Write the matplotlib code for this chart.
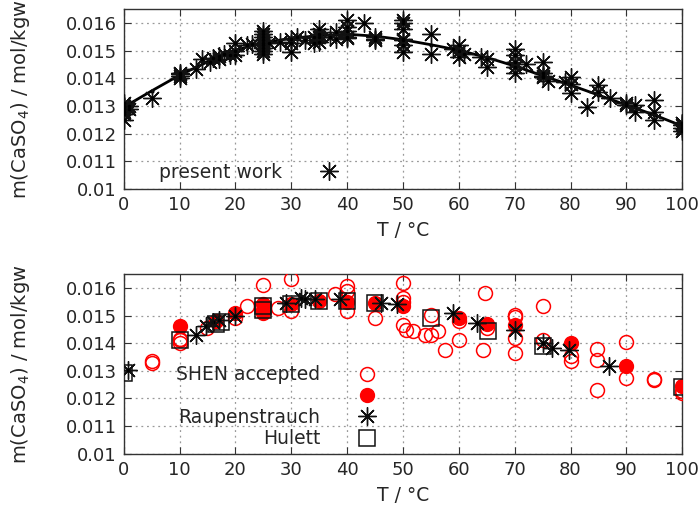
import matplotlib
matplotlib.use("Agg")
import matplotlib.pyplot as plt
import numpy as np
from matplotlib.ticker import MultipleLocator, FormatStrFormatter

# top panel: present work
top_T = [0, 0, 0, 0, 0, 0, 0, 1, 1, 5, 10, 10, 10, 10, 13, 14, 15.5, 16, 17, 17, 18, 19,
         20, 20, 20, 22, 23, 25, 25, 25, 25, 25, 25, 25, 25, 25, 26, 28, 30, 30, 30, 31,
         32.5, 34, 34, 35, 35, 35, 35, 37, 38, 38, 40, 40, 40, 40, 40, 43, 45, 45, 45,
         50, 50, 50, 50, 50, 50, 50, 55, 55, 59, 60, 60, 60, 61, 64, 65, 65,
         70, 70, 70, 70, 70, 72, 75, 75, 75, 75, 76, 79, 80, 80, 80, 83, 85, 85, 87,
         90, 90, 91.5, 91.5, 95, 95, 95, 100, 100, 100, 100, 100]
top_m = [0.0125, 0.0127, 0.0128, 0.0129, 0.01295, 0.0130, 0.0131, 0.0129, 0.0130, 0.0133,
         0.0140, 0.0141, 0.01415, 0.0142, 0.01436, 0.01472, 0.0146, 0.01475, 0.0148, 0.0147,
         0.0149, 0.01485, 0.0150, 0.0153, 0.01484, 0.0152, 0.01525,
         0.0149, 0.0150, 0.0151, 0.0152, 0.0153, 0.0154, 0.0155, 0.0156, 0.0157,
         0.0153, 0.01532, 0.01544, 0.01496, 0.0153, 0.0155,
         0.0154, 0.0155, 0.0153, 0.0158, 0.0156, 0.0155, 0.01532, 0.0155, 0.01568, 0.01544,
         0.0161, 0.01586, 0.0155, 0.01545, 0.0157, 0.0160, 0.01544, 0.0154, 0.0155,
         0.0161, 0.0160, 0.0158, 0.01544, 0.0152, 0.01496, 0.0154, 0.01562, 0.0149,
         0.01508, 0.01478, 0.0152, 0.0150, 0.0149, 0.01478, 0.01442, 0.0147,
         0.01508, 0.01484, 0.01442, 0.01418, 0.0146, 0.01454,
         0.0146, 0.01418, 0.01406, 0.0141, 0.0139, 0.01388, 0.01346, 0.01406, 0.0138,
         0.01298, 0.01376, 0.0135, 0.01328, 0.01304, 0.0131, 0.01304, 0.0128,
         0.01322, 0.0125, 0.0128, 0.01238, 0.0122, 0.0123, 0.0124, 0.0121]

# fitted curve
fit_T = [0, 5, 10, 15, 20, 25, 30, 35, 40, 45, 50, 55, 60, 65, 70, 75, 80, 85, 90, 95, 100]
fit_m = [0.01296, 0.01355, 0.01412, 0.01460, 0.01502, 0.01530, 0.01545, 0.01555, 0.01560,
         0.01553, 0.01540, 0.01522, 0.01502, 0.01476, 0.01445, 0.01410, 0.01376, 0.01340,
         0.01304, 0.01268, 0.01228]

# bottom panel
shen_open_T = [5, 5, 10, 10, 10, 15, 20, 22, 25, 25, 27.6, 30, 30, 37.8, 40, 40, 40, 45,
               50, 50, 50, 50, 50.6, 51.8, 53.9, 55, 55.1, 56.3, 57.5, 60, 60, 64.7, 65,
               64.4, 70, 70, 70, 70, 75, 75, 80, 80, 84.7, 84.7, 84.7, 90, 90, 95, 95,
               100, 100]
shen_open_m = [0.0133, 0.01335, 0.01416, 0.0141, 0.0140, 0.01455, 0.0149, 0.01533, 0.01612,
               0.0152, 0.01528, 0.01633, 0.01515, 0.01576, 0.01606, 0.01588, 0.01515, 0.01491,
               0.01618, 0.01564, 0.0155, 0.01467, 0.01449, 0.01443, 0.01431, 0.01431, 0.01503,
               0.01443, 0.01376, 0.01413, 0.0148, 0.01582, 0.01455, 0.01376, 0.01503, 0.01495,
               0.01419, 0.01364, 0.01533, 0.01413, 0.01352, 0.01334, 0.01379, 0.0134, 0.01229,
               0.01403, 0.01274, 0.01268, 0.01272, 0.0122, 0.01226]
shen_fill_T = [10, 16.5, 20, 25, 25, 30, 35, 40, 45, 50, 60, 65, 70, 80, 90, 100]
shen_fill_m = [0.01461, 0.0148, 0.01509, 0.0151, 0.0154, 0.0154, 0.01551, 0.0155, 0.01546,
               0.01533, 0.01491, 0.0147, 0.01467, 0.01401, 0.01318, 0.01244]
raup_T = [0.8, 13, 14.8, 16, 17, 20, 29.1, 31.8, 32.4, 34.2, 38.7, 46, 48.9, 59, 63.2, 70,
          75, 76.6, 79.7, 86.8]
raup_m = [0.01304, 0.01431, 0.01461, 0.01478, 0.01485, 0.01497, 0.01546, 0.01564, 0.01558,
          0.01558, 0.01558, 0.01546, 0.0154, 0.01509, 0.01473, 0.01449, 0.0140, 0.01383,
          0.01376, 0.01316]
hul_T = [0, 10, 16.5, 17.5, 25, 25, 30, 35, 40, 45, 55.1, 65.3, 75, 100]
hul_m = [0.01292, 0.01413, 0.0147, 0.01478, 0.01533, 0.0152, 0.01541, 0.01551, 0.01551,
         0.01546, 0.01491, 0.01443, 0.01388, 0.01241]

plt.rcParams['font.family'] = 'DejaVu Sans'
plt.rcParams['font.size'] = 13
plt.rcParams['text.color'] = '#262626'
plt.rcParams['axes.labelcolor'] = '#262626'

star = (8, 2, 0)  # gnuplot style asterisk
red = '#ff0000'

fig = plt.figure(figsize=(6.99, 5.18), dpi=100)
ax1 = fig.add_axes([0.177, 0.635, 0.799, 0.347])
ax2 = fig.add_axes([0.177, 0.124, 0.799, 0.347])


def style(ax):
    ax.set_xlim(0, 100)
    ax.set_ylim(0.01, 0.0165)
    ax.xaxis.set_major_locator(MultipleLocator(10))
    ax.yaxis.set_major_locator(MultipleLocator(0.001))
    ax.yaxis.set_major_formatter(FormatStrFormatter('%g'))
    ax.tick_params(direction='in', top=True, right=True, length=5, width=0.8,
                   labelsize=13, color='#333333', labelcolor='#262626', pad=5)
    ax.grid(True, color='#999999', linestyle=(0, (1.5, 3)), linewidth=0.9)
    for s in ax.spines.values():
        s.set_color('#333333')
        s.set_linewidth(1.0)
    ax.set_xlabel('T / °C', fontsize=13.5, labelpad=5)
    ax.set_ylabel('m(CaSO$_4$) / mol/kgw', fontsize=14, labelpad=24)


style(ax1)
ax1.plot(fit_T, fit_m, color='black', lw=2.0, marker='.', ms=4, zorder=3)
ax1.plot(top_T, top_m, ls='none', marker=star, ms=13, mew=1.0, color='#111111',
         label='present work', zorder=4)
ax1.plot(top_T, top_m, ls='none', marker='.', ms=3, color='black', zorder=5)
ax1.legend(loc='lower right', bbox_to_anchor=(0.402, 0.0), frameon=False, fontsize=13.5,
           markerfirst=False, handlelength=1.2, handletextpad=1.9, borderaxespad=0)

style(ax2)
ax2.plot(shen_open_T, shen_open_m, ls='none', marker='o', ms=10, mfc='none', mec=red,
         mew=1.1, label='SHEN accepted', zorder=3)
ax2.plot(shen_fill_T, shen_fill_m, ls='none', marker='o', ms=10, color=red, label=' ',
         zorder=4)
ax2.plot(raup_T, raup_m, ls='none', marker=star, ms=13, mew=1.0, color='#111111',
         label='Raupenstrauch', zorder=5)
ax2.plot(raup_T, raup_m, ls='none', marker='.', ms=3, color='black', zorder=6)
ax2.plot(hul_T, hul_m, ls='none', marker='s', ms=11, mfc='none', mec='#111111', mew=1.1,
         label='Hulett', zorder=6)
h, l = ax2.get_legend_handles_labels()
ax2.legend(h, l, loc='lower right', bbox_to_anchor=(0.469, -0.011), frameon=False,
           fontsize=13.5, markerfirst=False, handlelength=1.2, handletextpad=1.9,
           borderaxespad=0, labelspacing=0.12)

fig.savefig('out.png', dpi=100)
